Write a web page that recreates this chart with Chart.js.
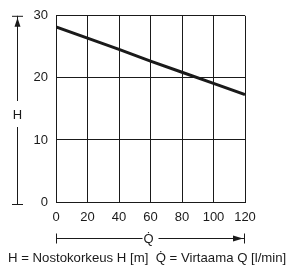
<!DOCTYPE html>
<html>
<head>
<meta charset="utf-8">
<script src="https://cdn.jsdelivr.net/npm/chart.js@4"></script>
<style>
  html, body { margin: 0; padding: 0; background: #fff; }
  #wrap { width: 291px; height: 268px; }
</style>
</head>
<body>
<div id="wrap"><canvas id="pumpChart" width="291" height="268"></canvas></div>
<script>
'use strict';

//flow Q [l/min] and head H [m]
const flowQ = [0, 20, 40, 60, 80, 100, 120];
const headH = [28.2, 26.4, 24.6, 22.7, 20.9, 19.1, 17.3];
const xTickStep = 20;
const yTickStep = 10;
const caption = 'H = Nostokorkeus H [m]  Q\u0307 = Virtaama Q [l/min]';

const ink = '#1a1a1a';
const fontFamily = 'Helvetica, Arial, "Liberation Sans", sans-serif';

//arrows, axis letters and caption drawn around the chart area
const decorations = {
  id: 'decorations',
  afterDraw(chart){
    const ctx = chart.ctx;
    const area = chart.chartArea;
    ctx.save();
    ctx.strokeStyle = ink;
    ctx.fillStyle = ink;
    ctx.lineWidth = 1;

    //vertical H arrow
    let ax = 17.5;
    ctx.beginPath();
    ctx.moveTo(12, area.top + 0.5); ctx.lineTo(23, area.top + 0.5);
    ctx.moveTo(ax, area.top); ctx.lineTo(ax, 101);
    ctx.moveTo(ax, 127); ctx.lineTo(ax, area.bottom + 2);
    ctx.moveTo(12, area.bottom + 2.5); ctx.lineTo(23, area.bottom + 2.5);
    ctx.stroke();
    ctx.beginPath();
    ctx.moveTo(ax, area.top + 2); ctx.lineTo(ax - 3, area.top + 11); ctx.lineTo(ax + 3, area.top + 11);
    ctx.closePath(); ctx.fill();

    ctx.font = '13px ' + fontFamily;
    ctx.textAlign = 'center';
    ctx.textBaseline = 'middle';
    ctx.fillText('H', ax, 115);

    //horizontal Q arrow
    let ay = 238.5;
    let mid = (area.left + area.right) / 2;
    ctx.beginPath();
    ctx.moveTo(area.left + 0.5, ay - 5); ctx.lineTo(area.left + 0.5, ay + 5);
    ctx.moveTo(area.left, ay); ctx.lineTo(mid - 8, ay);
    ctx.moveTo(mid + 8, ay); ctx.lineTo(area.right, ay);
    ctx.moveTo(area.right - 0.5, ay - 5); ctx.lineTo(area.right - 0.5, ay + 5);
    ctx.stroke();
    ctx.beginPath();
    ctx.moveTo(area.right - 2, ay); ctx.lineTo(area.right - 12, ay - 3); ctx.lineTo(area.right - 12, ay + 3);
    ctx.closePath(); ctx.fill();
    ctx.fillText('Q\u0307', mid - 2, ay + 1);

    //caption
    ctx.font = '13.2px ' + fontFamily;
    ctx.textAlign = 'left';
    ctx.fillText(caption, 8, 258);
    ctx.restore();
  }
};

const data = {
  datasets: [
    {
      label: 'H',
      data: flowQ.map((q, i) => ({x: q, y: headH[i]})),
      borderColor: ink,
      borderWidth: 3,
      pointRadius: 0,
      tension: 0
    }
  ]
};

const config = {
  type: 'line',
  data: data,
  options: {
    responsive: false,
    animation: false,
    layout: {padding: {left: 20, right: 46, top: 15, bottom: 44}},
    plugins: {legend: {display: false}, tooltip: {enabled: false}},
    scales: {
      x: {
        type: 'linear',
        min: 0,
        max: 120,
        afterFit: (scale) => { scale.height = 22; },
        grid: {color: ink, lineWidth: 1, drawTicks: false},
        border: {color: ink},
        ticks: {stepSize: xTickStep, autoSkip: false, color: ink, padding: 8, maxRotation: 0, font: {size: 13, family: fontFamily}}
      },
      y: {
        min: 0,
        max: 30,
        afterFit: (scale) => { scale.width = 36; },
        grid: {color: ink, lineWidth: 1, drawTicks: false},
        border: {color: ink},
        ticks: {stepSize: yTickStep, color: ink, padding: 8, font: {size: 13, family: fontFamily}}
      }
    }
  },
  plugins: [decorations]
};

const pumpChart = new Chart(document.getElementById('pumpChart'), config);
</script>
</body>
</html>
